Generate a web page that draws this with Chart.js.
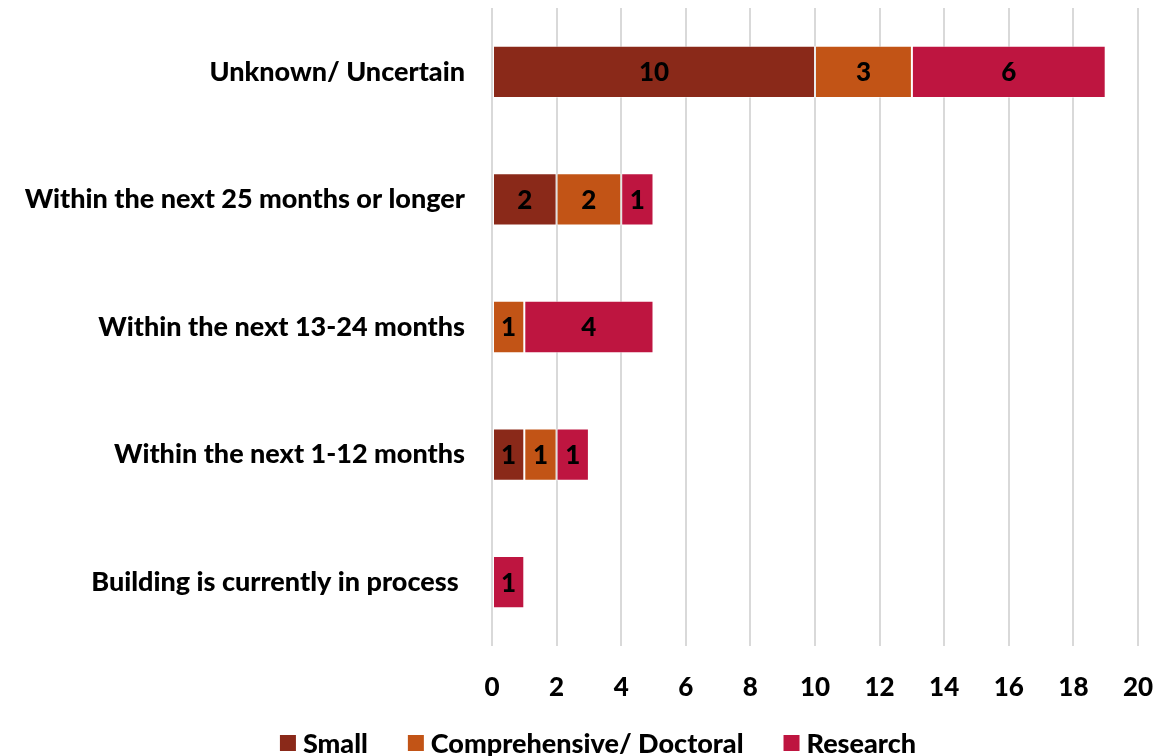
<!DOCTYPE html>
<html>
<head>
<meta charset="utf-8">
<script src="https://cdn.jsdelivr.net/npm/chart.js@4.4.1/dist/chart.umd.min.js"></script>
<style>
html,body{margin:0;padding:0;background:#fff;}
#wrap{width:1171px;height:756px;}
</style>
</head>
<body>
<div id="wrap"><canvas id="c" width="1171" height="756"></canvas></div>
<script>
const categories = [
  "Unknown/ Uncertain",
  "Within the next 25 months or longer",
  "Within the next 13-24 months",
  "Within the next 1-12 months",
  "Building is currently in process "
];
const seriesNames = ["Small", "Comprehensive/ Doctoral", "Research"];
const smallValues = [10, 2, 0, 1, 0];
const comprehensiveValues = [3, 2, 1, 1, 0];
const researchValues = [6, 1, 4, 1, 1];
const seriesColors = ["#8A2919", "#C25416", "#BE1540"];
const xTicks = [0, 2, 4, 6, 8, 10, 12, 14, 16, 18, 20];

const FONT = "Lato, 'Open Sans', sans-serif";
const WEIGHT = '900';

const valueLabels = {
  id: 'valueLabels',
  afterDatasetsDraw(chart) {
    const ctx = chart.ctx;
    ctx.save();
    ctx.font = WEIGHT + " 26px " + FONT;
    ctx.fillStyle = "#000";
    ctx.textAlign = "center";
    ctx.textBaseline = "middle";
    chart.data.datasets.forEach((ds, i) => {
      const meta = chart.getDatasetMeta(i);
      meta.data.forEach((bar, j) => {
        const v = ds.data[j];
        if (!v) return;
        const p = bar.getProps(['x', 'y', 'base'], true);
        ctx.fillText(String(v), (p.x + p.base) / 2, p.y + 1);
      });
    });
    ctx.restore();
  }
};

const bottomLegend = {
  id: 'bottomLegend',
  afterDraw(chart) {
    const ctx = chart.ctx;
    ctx.save();
    ctx.font = WEIGHT + " 27px " + FONT;
    ctx.textBaseline = "middle";
    ctx.textAlign = "left";
    const box = 16, gapText = 7, gapItem = 40;
    const items = chart.data.datasets.map(d => ({ label: d.label, color: d.backgroundColor, w: ctx.measureText(d.label).width }));
    let total = items.reduce((s, it) => s + box + gapText + it.w, 0) + gapItem * (items.length - 1);
    let x = 598 - total / 2;
    const y = 743;
    items.forEach(it => {
      ctx.fillStyle = it.color;
      ctx.fillRect(x, y - 8, box, box);
      x += box + gapText;
      ctx.fillStyle = "#000";
      ctx.fillText(it.label, x, y + 1);
      x += it.w + gapItem;
    });
    ctx.restore();
  }
};

const seriesValues = [smallValues, comprehensiveValues, researchValues];

new Chart(document.getElementById('c'), {
  type: 'bar',
  data: {
    labels: categories,
    datasets: seriesNames.map((name, i) => ({
      label: name,
      data: seriesValues[i],
      backgroundColor: seriesColors[i],
      borderColor: 'rgba(255,255,255,0.45)',
      borderWidth: 1,
      borderSkipped: false,
      categoryPercentage: 1,
      barPercentage: 0.41
    }))
  },
  options: {
    responsive: false,
    animation: false,
    indexAxis: 'y',
    layout: { padding: { top: 8, right: 33, left: 0, bottom: 0 } },
    scales: {
      x: {
        stacked: true,
        min: 0, max: 20,
        afterBuildTicks(axis) { axis.ticks = xTicks.map(v => ({ value: v })); },
        afterFit(axis) { axis.height = 110; axis.paddingLeft = 0; axis.paddingRight = 0; },
        grid: { color: '#d9d9d9', lineWidth: 2, drawTicks: false },
        border: { display: false },
        ticks: { color: '#000', padding: 26, font: { family: FONT, weight: WEIGHT, size: 26 } }
      },
      y: {
        stacked: true,
        afterFit(axis) { axis.width = 492; axis.paddingTop = 0; axis.paddingBottom = 0; },
        grid: { display: false, drawTicks: false },
        border: { display: false },
        ticks: { color: '#000', padding: 27, font: { family: FONT, weight: WEIGHT, size: 27 } }
      }
    },
    plugins: {
      legend: { display: false },
      tooltip: { enabled: false }
    }
  },
  plugins: [valueLabels, bottomLegend]
});
</script>
</body>
</html>
